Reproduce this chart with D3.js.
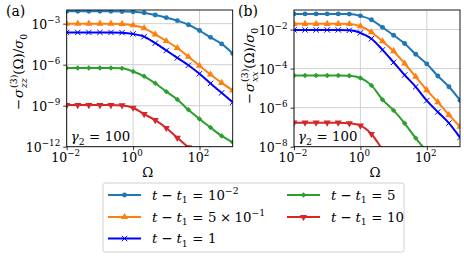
<!DOCTYPE html>
<html>
<head>
<meta charset="utf-8">
<script src="https://cdn.jsdelivr.net/npm/d3@7"></script>
<style>
  body { margin: 0; background: #fff; }
  svg text { font-family: "DejaVu Serif", "Liberation Serif", serif; }
</style>
</head>
<body>
<script>
// Omega grid (same for every curve)
const omega = [1e-2, 2.15e-2, 4.64e-2, 1e-1, 2.15e-1, 4.64e-1, 1, 2.15, 4.64, 10, 21.5, 46.4, 100, 215, 464, 1000];

// panel (a): -sigma_zz / sigma_0
const zz_t001 = [7.94e-3, 7.94e-3, 7.94e-3, 7.94e-3, 7.94e-3, 7.76e-3, 7.41e-3, 6.31e-3, 4.27e-3, 2.75e-3, 1.66e-3, 8.32e-4, 3.16e-4, 1.0e-4, 3.31e-5, 6.61e-6];
const zz_t05 = [1.0e-3, 1.0e-3, 1.0e-3, 1.0e-3, 1.0e-3, 9.55e-4, 7.59e-4, 4.68e-4, 1.62e-4, 5.37e-5, 1.66e-5, 3.80e-6, 8.32e-7, 1.91e-7, 4.68e-8, 1.32e-8];
const zz_t1 = [2.29e-4, 2.29e-4, 2.29e-4, 2.29e-4, 2.29e-4, 2.19e-4, 1.78e-4, 1.12e-4, 3.72e-5, 1.10e-5, 3.16e-6, 9.12e-7, 2.19e-7, 4.27e-8, 8.71e-9, 1.78e-9];
const zz_t5 = [5.75e-7, 5.75e-7, 5.75e-7, 5.75e-7, 5.75e-7, 5.37e-7, 3.16e-7, 1.41e-7, 4.37e-8, 1.07e-8, 2.88e-9, 5.01e-10, 1.07e-10, 2.51e-11, 6.17e-12, 2.09e-12];
const zz_t10 = [1.10e-9, 1.10e-9, 1.10e-9, 1.10e-9, 1.10e-9, 1.05e-9, 7.08e-10, 2.40e-10, 8.71e-11, 2.34e-11, 4.47e-12, 8.91e-13, 1.78e-13];

// panel (b): -sigma_xx / sigma_0
const xx_t001 = [6.31e-2, 6.31e-2, 6.31e-2, 6.31e-2, 6.31e-2, 6.17e-2, 5.01e-2, 3.16e-2, 1.29e-2, 5.13e-3, 1.91e-3, 5.37e-4, 1.74e-4, 4.17e-5, 1.17e-5, 2.40e-6];
const xx_t05 = [1.95e-2, 1.95e-2, 1.95e-2, 1.95e-2, 1.95e-2, 1.91e-2, 1.48e-2, 7.24e-3, 2.51e-3, 7.76e-4, 1.82e-4, 3.80e-5, 7.94e-6, 1.91e-6, 4.27e-7, 1.05e-7];
const xx_t1 = [9.55e-3, 9.55e-3, 9.55e-3, 9.55e-3, 9.55e-3, 9.12e-3, 6.76e-3, 3.39e-3, 9.12e-4, 2.09e-4, 4.68e-5, 1.17e-5, 2.29e-6, 6.03e-7, 1.62e-7, 2.95e-8];
const xx_t5 = [4.47e-5, 4.47e-5, 4.47e-5, 4.47e-5, 4.47e-5, 4.27e-5, 3.31e-5, 1.38e-5, 2.57e-6, 7.24e-7, 1.58e-7, 2.75e-8, 5.62e-9, 1.26e-9];
const xx_t10 = [1.70e-7, 1.70e-7, 1.70e-7, 1.70e-7, 1.70e-7, 1.58e-7, 1.20e-7, 4.47e-8, 7.08e-9, 1.26e-9];

// tick values
const xTicks = [1e-2, 1e0, 1e2];
const xTickExp = ["−2", "0", "2"];
const yTicksA = [1e-12, 1e-9, 1e-6, 1e-3];
const yTickExpA = ["−12", "−9", "−6", "−3"];
const yTicksB = [1e-8, 1e-6, 1e-4, 1e-2];
const yTickExpB = ["−8", "−6", "−4", "−2"];

// legend values (t - t1)
const tValues = ["10", "5 × 10", "1", "5", "10"];
const tValueExp = ["−2", "−1", null, null, null];

const colors = ["#1f77b4", "#ff7f0e", "#0000ff", "#2ca02c", "#d62728"];
const markers = ["circle", "tri-up", "x", "diamond", "tri-down"];

const FONT = '"DejaVu Serif", "Liberation Serif", serif';
const W = 464, H = 256;
const svg = d3.select("body").append("svg")
    .attr("width", W)
    .attr("height", H);

// writes a small math string made of pieces: {t, it, sup, sub, stack, op}
// op = spacing put on both sides of an operator
function mathText(sel, pieces, size) {
    const txt = sel.append("text")
        .style("font-family", FONT)
        .attr("fill", "#000")
        .style("font-size", size + "px");
    let shift = 0, prevLen = 0, extra = 0;
    pieces.forEach(function(p) {
        const target = p.sup ? -0.42 * size : (p.sub ? 0.3 * size : 0);
        let dx = (p.op || 0) + extra;
        extra = 0;
        const ts = txt.append("tspan")
            .text(p.t)
            .attr("dy", target - shift)
            .style("font-size", (p.sup || p.sub) ? (size * 0.7) + "px" : null)
            .style("font-style", p.it ? "italic" : "normal");
        if (p.stack) dx -= prevLen;
        if (dx) ts.attr("dx", dx);
        const len = ts.node().getComputedTextLength();
        if (p.stack && prevLen > len) extra = prevLen - len;
        if (p.op) extra += p.op;
        shift = target;
        prevLen = len;
    });
    return txt;
}

function drawMarker(g, type, x, y, color) {
    if (type === "x") {
        g.append("path")
            .attr("d", `M${x - 2.7},${y - 2.7}L${x + 2.7},${y + 2.7}M${x - 2.7},${y + 2.7}L${x + 2.7},${y - 2.7}`)
            .attr("stroke", color)
            .attr("stroke-width", 1);
        return;
    }
    let sym = d3.symbolCircle, size = 19, rot = 0;
    if (type === "tri-up") { sym = d3.symbolTriangle; size = 22; }
    if (type === "tri-down") { sym = d3.symbolTriangle; size = 22; rot = 180; }
    if (type === "diamond") { sym = d3.symbolSquare; size = 15; rot = 45; }
    g.append("path")
        .attr("d", d3.symbol().type(sym).size(size)())
        .attr("transform", `translate(${x},${y}) rotate(${rot})`)
        .attr("fill", color);
}

function drawPanel(opts) {
    const w = 166, h = 136.7;
    const g = svg.append("g").attr("transform", `translate(${opts.left},${opts.top})`);

    const x = d3.scaleLog().domain([1e-2, 1e3]).range([0, w]);
    const y = d3.scaleLog().domain(opts.yDomain).range([h, 0]);

    // grid
    g.selectAll(".gx").data(xTicks).enter().append("line")
        .attr("x1", d => x(d)).attr("x2", d => x(d))
        .attr("y1", 0).attr("y2", h)
        .attr("stroke", "#d0d0d0").attr("stroke-width", 1);
    g.selectAll(".gy").data(opts.yTicks).enter().append("line")
        .attr("x1", 0).attr("x2", w)
        .attr("y1", d => y(d)).attr("y2", d => y(d))
        .attr("stroke", "#d0d0d0").attr("stroke-width", 1);

    // clip
    svg.append("clipPath").attr("id", "clip" + opts.tag)
        .append("rect").attr("width", w).attr("height", h);
    const plot = g.append("g").attr("clip-path", `url(#clip${opts.tag})`);

    const line = d3.line()
        .x((d, i) => x(omega[i]))
        .y(d => y(d))
        .curve(d3.curveMonotoneX);

    opts.series.forEach(function(s, k) {
        plot.append("path")
            .attr("d", line(s))
            .attr("fill", "none")
            .attr("stroke", colors[k])
            .attr("stroke-width", 2);
        s.forEach(function(v, i) {
            drawMarker(plot, markers[k], x(omega[i]), y(v), colors[k]);
        });
    });

    // axes
    const xAxis = d3.axisBottom(x).tickValues(xTicks).tickSize(3.5).tickFormat("");
    const gx = g.append("g").attr("transform", `translate(0,${h})`).call(xAxis);
    const yAxis = d3.axisLeft(y).tickValues(opts.yTicks).tickSize(3.5).tickFormat("");
    const gy = g.append("g").call(yAxis);
    [gx, gy].forEach(function(a) {
        a.select(".domain").remove();
        a.selectAll(".tick line").attr("stroke", "#000").attr("stroke-width", 0.8);
    });

    // tick labels
    xTicks.forEach(function(t, i) {
        mathText(g, [{t: "10"}, {t: xTickExp[i], sup: true}], 12.5)
            .attr("x", x(t) - 1)
            .attr("y", h + 15)
            .attr("text-anchor", "middle");
    });
    opts.yTicks.forEach(function(t, i) {
        mathText(g, [{t: "10"}, {t: opts.yTickExp[i], sup: true}], 12.5)
            .attr("x", -6.5)
            .attr("y", y(t) + 5)
            .attr("text-anchor", "end");
    });

    // frame
    g.append("rect")
        .attr("width", w).attr("height", h)
        .attr("fill", "none")
        .attr("stroke", "#000")
        .attr("stroke-width", 0.9);

    // gamma label
    mathText(g, [{t: "γ", it: true}, {t: "2", sub: true}, {t: "=", op: 4.5}, {t: "100"}], 13.3)
        .attr("x", 4)
        .attr("y", h - 6);

    // x label
    mathText(g, [{t: "Ω"}], 13.3)
        .attr("x", w / 2 - 2)
        .attr("y", h + 30.5)
        .attr("text-anchor", "middle");

    // y label
    const yl = svg.append("g").attr("transform", `translate(${opts.ylx},${opts.yly}) rotate(-90)`);
    mathText(yl, [
        {t: "−"}, {t: "σ", it: true, op: 1},
        {t: "(3)", sup: true}, {t: opts.sub, sub: true, it: true, stack: true},
        {t: "(Ω)/"}, {t: "σ", it: true}, {t: "0", sub: true}
    ], 13.3).attr("text-anchor", "middle");

    // panel tag
    mathText(svg, [{t: "(" + opts.tag + ")"}], 14)
        .attr("x", opts.tagX)
        .attr("y", 16);
}

drawPanel({
    tag: "a", left: 66.7, top: 10,
    yDomain: [1e-12, 1e-2], yTicks: yTicksA, yTickExp: yTickExpA,
    series: [zz_t001, zz_t05, zz_t1, zz_t5, zz_t10],
    sub: "zz", ylx: 23, yly: 72, tagX: 6
});
drawPanel({
    tag: "b", left: 294, top: 10,
    yDomain: [1e-8, 1e-1], yTicks: yTicksB, yTickExp: yTickExpB,
    series: [xx_t001, xx_t05, xx_t1, xx_t5, xx_t10],
    sub: "xx", ylx: 254, yly: 66, tagX: 238
});

// legend
const legend = svg.append("g").attr("transform", "translate(103,183)");
legend.append("rect")
    .attr("width", 301).attr("height", 69)
    .attr("rx", 2.5)
    .attr("fill", "#fff")
    .attr("stroke", "#d0d0d0")
    .attr("stroke-width", 1);

const legendPos = [[5, 12], [5, 34], [5, 55.5], [184, 12], [184, 34]];
tValues.forEach(function(v, k) {
    const [lx, ly] = legendPos[k];
    legend.append("line")
        .attr("x1", lx).attr("x2", lx + 33)
        .attr("y1", ly).attr("y2", ly)
        .attr("stroke", colors[k])
        .attr("stroke-width", 2);
    drawMarker(legend, markers[k], lx + 16.5, ly, colors[k]);
    const pieces = [
        {t: "t", it: true}, {t: "−", op: 4}, {t: "t", it: true}, {t: "1", sub: true},
        {t: "=", op: 4.5}
    ];
    if (v.indexOf("×") >= 0) {
        pieces.push({t: "5"}, {t: "×", op: 3.5}, {t: "10"});
    } else {
        pieces.push({t: v});
    }
    if (tValueExp[k]) pieces.push({t: tValueExp[k], sup: true});
    mathText(legend, pieces, 13.3)
        .attr("x", lx + 44)
        .attr("y", ly + 4.5);
});
</script>
</body>
</html>
